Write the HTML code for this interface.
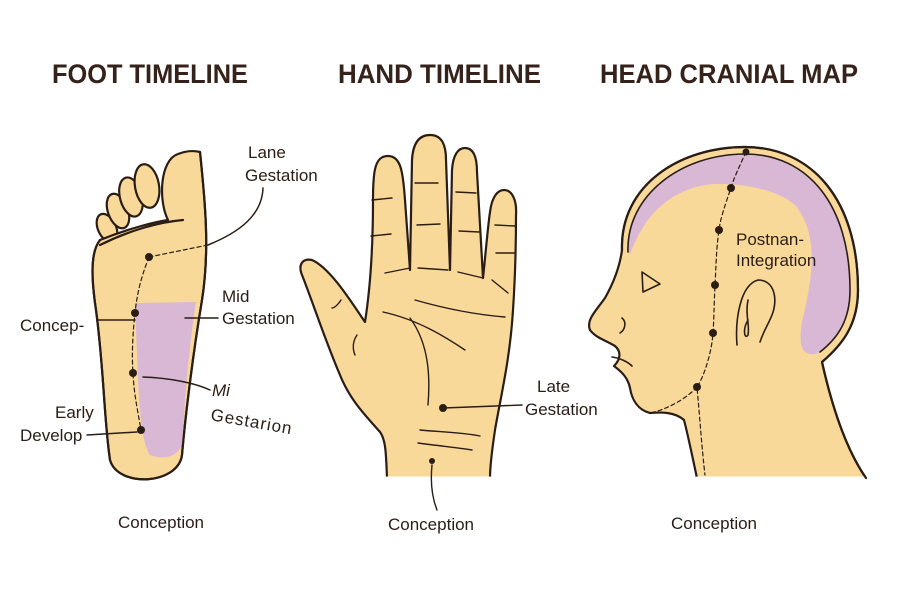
<!DOCTYPE html>
<html><head><meta charset="utf-8"><style>
html,body{margin:0;padding:0;background:#fff;width:900px;height:600px;overflow:hidden}
svg{display:block}
text{font-family:"Liberation Sans",sans-serif;fill:#2a1d15}
.t{font-weight:bold;font-size:27px;fill:#35221a}
.l{font-size:17px}
</style></head><body>
<svg width="900" height="600" viewBox="0 0 900 600" xmlns="http://www.w3.org/2000/svg">
<g stroke="#2a1d15" stroke-width="2.2" stroke-linejoin="round" stroke-linecap="round">
<text class="t" x="52" y="83" textLength="196" lengthAdjust="spacingAndGlyphs" stroke="none">FOOT TIMELINE</text>
<text class="t" x="338" y="83" textLength="203" lengthAdjust="spacingAndGlyphs" stroke="none">HAND TIMELINE</text>
<text class="t" x="600" y="83" textLength="258" lengthAdjust="spacingAndGlyphs" stroke="none">HEAD CRANIAL MAP</text>

<!-- FOOT -->
<g fill="#f9d99a">
<ellipse cx="107" cy="228" rx="9" ry="15" transform="rotate(-25 107 228)"/>
<ellipse cx="118" cy="211" rx="10" ry="18" transform="rotate(-20 118 211)"/>
<ellipse cx="131" cy="197" rx="11" ry="20" transform="rotate(-15 131 197)"/>
<ellipse cx="147" cy="186" rx="12" ry="22" transform="rotate(-10 147 186)"/>
<path d="M200,152 C205,200 210,250 202,300 C192,360 185,420 182,455 C178,485 118,488 110,460 C104,420 104,370 96,310 C90,270 92,250 100,240 C130,228 155,222 168,220 C158,200 160,160 178,154 C188,150 196,151 200,152 Z"/>
</g>
<path d="M100,245 C130,230 160,222 183,220" fill="none"/>
<path d="M135,303 L196,302 C190,340 184,400 183,440 C181,458 162,460 150,455 C143,445 140,420 138,380 Z" fill="#d9b8d6" stroke="none"/>
<path d="M200,152 C205,200 210,250 202,300 C192,360 185,420 182,455 C178,485 118,488 110,460 C104,420 104,370 96,310 C90,270 92,250 100,240" fill="none"/>
<path d="M149,257 L208,245 M149,257 C140,280 137,295 135,313 C132,340 132,360 133,373 C134,395 138,412 141,430" fill="none" stroke-width="1.2" stroke-dasharray="4,3"/>
<path d="M208,245 C240,232 262,215 263,188" fill="none" stroke-width="1.5"/>
<path d="M135,320 L97,320 M185,318 L218,318 M143,377 C170,378 195,383 210,390 M87,435 L137,432" fill="none" stroke-width="1.5"/>
<g fill="#2a1d15" stroke="none">
<circle cx="149" cy="257" r="4"/><circle cx="135" cy="313" r="4"/><circle cx="133" cy="373" r="4"/><circle cx="141" cy="430" r="4"/>
</g>
<g stroke="none">
<text class="l" x="248" y="158">Lane</text>
<text class="l" x="245" y="181">Gestation</text>
<text class="l" x="20" y="331">Concep-</text>
<text class="l" x="222" y="302">Mid</text>
<text class="l" x="222" y="324">Gestation</text>
<text class="l" x="212" y="396" font-style="italic">Mi</text>
<text class="l" x="210" y="420" transform="rotate(10 210 420)" letter-spacing="1">Gestarion</text>
<text class="l" x="55" y="418">Early</text>
<text class="l" x="20" y="441">Develop</text>
<text class="l" x="118" y="528">Conception</text>
</g>

<!-- HAND -->
<path fill="#f9d99a" d="M387,478 C386,455 386,440 380,432 C365,415 350,400 340,375 C325,340 312,300 302,275 C298,265 302,258 312,260 C330,268 350,300 365,322 C370,290 373,250 373,200 C373,170 375,156 388,156 C401,156 403,172 405,200 L410,270 L412,160 C413,142 420,135 430,135 C442,135 446,145 446,160 L450,270 L452,170 C453,155 458,148 465,148 C474,148 477,158 477,172 L483,278 C486,250 488,225 490,212 C492,196 498,190 504,190 C512,190 517,200 516,215 C516,250 515,280 513,310 C510,360 500,400 495,430 C492,450 490,465 490,478 Z"/>
<path d="M387,478 L490,478" stroke="#fff" stroke-width="3"/>
<g fill="none" stroke-width="1.4">
<path d="M372,200 L392,198 M371,236 L391,234 M415,183 L438,183 M417,225 L440,224 M456,192 L476,193 M459,231 L479,232 M495,225 L515,226 M496,253 L514,253"/>
<path d="M385,273 L410,268 M418,268 L448,270 M458,272 L483,278 M492,280 L508,293"/>
<path d="M415,300 C450,310 480,315 505,317"/>
<path d="M383,312 C420,320 450,340 465,350"/>
<path d="M410,318 C430,345 430,380 428,405"/>
<path d="M357,335 C350,345 355,355 355,355"/>
<path d="M341,300 C338,305 334,308 332,308"/>
<path d="M420,430 C440,432 460,432 480,436 M418,443 C440,446 460,448 472,450"/>
<path d="M443,408 L522,405 M432,465 C430,485 433,500 437,510"/>
</g>
<g fill="#2a1d15" stroke="none"><circle cx="443" cy="408" r="4"/><circle cx="432" cy="461" r="3"/></g>
<g stroke="none">
<text class="l" x="537" y="392">Late</text>
<text class="l" x="525" y="415">Gestation</text>
<text class="l" x="388" y="530">Conception</text>
</g>

<!-- HEAD -->
<path fill="#f9d99a" d="M622,250 C620,185 680,147 745,147 C812,147 858,200 858,290 C858,325 842,345 822,362 C835,420 850,455 866,478 L697,478 C692,455 688,435 684,420 C675,412 662,412 650,413 C638,410 632,400 630,388 C628,378 622,372 614,366 C620,360 622,352 615,346 C605,340 596,338 590,330 C586,320 595,312 605,298 C614,282 620,265 622,250 Z"/>
<path d="M697,478 L866,478" stroke="#fff" stroke-width="3"/>
<path fill="#d9b8d6" stroke="none" d="M628,252 C626,195 682,154 745,154 C808,154 850,205 850,290 C850,322 836,342 816,354 C802,356 798,346 802,322 C812,280 820,235 795,205 C775,187 725,180 700,186 C662,195 642,222 630,254 Z"/>
<path d="M628,252 C626,195 682,154 745,154 C808,154 850,205 850,290 C850,320 838,338 820,352" fill="none" stroke-width="1.6"/>
<path d="M622,250 C620,185 680,147 745,147 C812,147 858,200 858,290 C858,325 842,345 822,362 C835,420 850,455 866,478" fill="none"/>
<path d="M642,272 L660,284 L643,292 Z" fill="none" stroke-width="1.6"/>
<path d="M622,318 C627,322 625,330 620,333 M612,357 C620,358 628,362 632,366" fill="none" stroke-width="1.6"/>
<path d="M737,345 C735,320 740,285 758,280 C775,280 778,300 772,315 C768,325 764,330 760,342 M748,300 C745,315 750,325 748,335 C745,340 742,330 748,320" fill="none" stroke-width="1.6"/>
<path d="M746,152 C740,165 733,180 731,188 C725,205 720,220 719,230 C716,250 716,270 715,285 C714,305 714,320 713,333 C712,350 705,375 697,387 C700,420 702,450 705,475 M697,387 C685,400 665,410 650,413" fill="none" stroke-width="1.2" stroke-dasharray="4,3"/>
<g fill="#2a1d15" stroke="none">
<circle cx="746" cy="152" r="3.5"/><circle cx="731" cy="188" r="4"/><circle cx="719" cy="230" r="4"/><circle cx="715" cy="285" r="4"/><circle cx="713" cy="333" r="4"/><circle cx="697" cy="387" r="4"/>
</g>
<g stroke="none">
<text class="l" x="736" y="245">Postnan-</text>
<text class="l" x="736" y="266">Integration</text>
<text class="l" x="671" y="529">Conception</text>
</g>
</g>
</svg>
</body></html>
